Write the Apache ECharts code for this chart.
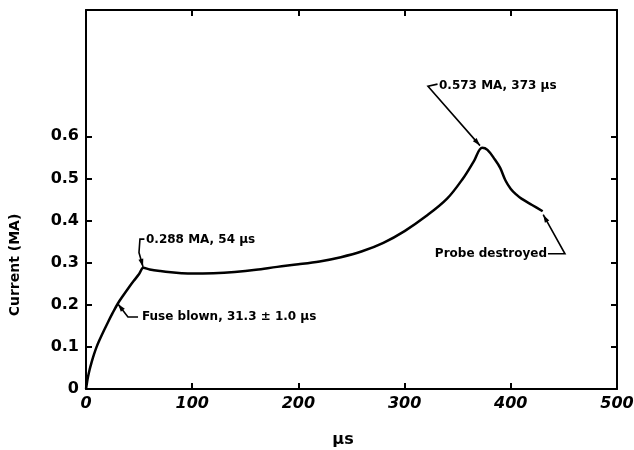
<!DOCTYPE html>
<html>
<head>
<meta charset="utf-8">
<script src="https://cdn.jsdelivr.net/npm/echarts@6/dist/echarts.min.js"></script>
<style>
html,body{margin:0;padding:0;background:#fff;}
#c{width:634px;height:450px;}
</style>
</head>
<body>
<div id="c"></div>
<script>
// ---- data (time in microseconds, current in MA) ----
const timeUs = [0, 1, 2, 3.5, 5, 7.5, 10, 12.5, 15, 20, 25, 30, 35, 40, 45, 50, 54, 60, 70, 80, 90, 100, 120, 140, 160, 180, 200, 220, 240, 260, 280, 300, 320, 340, 355, 365, 373, 378, 385, 390, 395, 400, 405, 410, 420, 430];
const currentMA = [0, 0.016, 0.03, 0.047, 0.061, 0.082, 0.10, 0.115, 0.129, 0.155, 0.18, 0.203, 0.222, 0.24, 0.257, 0.273, 0.288, 0.284, 0.28, 0.277, 0.275, 0.274, 0.275, 0.278, 0.283, 0.29, 0.296, 0.303, 0.313, 0.327, 0.347, 0.375, 0.41, 0.452, 0.5, 0.54, 0.573, 0.568, 0.545, 0.525, 0.495, 0.475, 0.462, 0.452, 0.437, 0.422];

const xTicks = [0, 100, 200, 300, 400, 500];
const yTicks = [0, 0.1, 0.2, 0.3, 0.4, 0.5, 0.6];
const topTicks = [100, 200, 300, 400];

// annotations: text, text anchor [us, MA], leader path [[us, MA], ...] ending at arrow tip
const annoTexts = ['0.288 MA, 54 \u03bcs', 'Fuse blown, 31.3 \u00b1 1.0 \u03bcs', '0.573 MA, 373 \u03bcs', 'Probe destroyed'];
const annoAnchors = [[56.5, 0.355], [52.7, 0.171], [332.4, 0.721], [328.5, 0.321]];
const annoPaths = [
  [[55.0, 0.356], [50.8, 0.356], [49.9, 0.324], [53.7, 0.290]],
  [[49.0, 0.171], [39.5, 0.171], [30.1, 0.202]],
  [[331.0, 0.724], [322.0, 0.719], [371.0, 0.578]],
  [[435.0, 0.321], [451.0, 0.321], [430.5, 0.414]]
];

const chart = echarts.init(document.getElementById('c'), null, {renderer: 'canvas'});
const FONT = 'DejaVu Sans';
const seriesData = timeUs.map((t, i) => [t, currentMA[i]]);

chart.setOption({
  animation: false,
  backgroundColor: '#fff',
  grid: {left: 86, right: 17, top: 10, bottom: 61, containLabel: false, outerBoundsMode: 'none'},
  xAxis: [{
    type: 'value', min: 0, max: 500, interval: 100,
    axisLine: {show: true, onZero: false, lineStyle: {color: '#000', width: 2}},
    axisTick: {show: true, inside: true, length: 6, lineStyle: {color: '#000', width: 2}, customValues: xTicks},
    axisLabel: {show: true, margin: 7, color: '#000', fontFamily: FONT, fontWeight: 'bold', fontSize: 16, fontStyle: 'italic', customValues: xTicks},
    splitLine: {show: false}
  }, {
    type: 'value', position: 'top', min: 0, max: 500, interval: 100,
    axisLine: {show: true, onZero: false, lineStyle: {color: '#000', width: 2}},
    axisTick: {show: true, inside: true, length: 6, lineStyle: {color: '#000', width: 2}, customValues: topTicks},
    axisLabel: {show: false},
    splitLine: {show: false}
  }],
  yAxis: [{
    type: 'value', min: 0, max: 0.9, interval: 0.1,
    axisLine: {show: true, onZero: false, lineStyle: {color: '#000', width: 2}},
    axisTick: {show: true, inside: true, length: 6, lineStyle: {color: '#000', width: 2}, customValues: yTicks},
    axisLabel: {show: true, margin: 7, color: '#000', fontFamily: FONT, fontWeight: 'bold', fontSize: 16, customValues: yTicks,
      formatter: v => (v === 0 ? '0' : v.toFixed(1))},
    splitLine: {show: false}
  }, {
    type: 'value', position: 'right', min: 0, max: 0.9, interval: 0.1,
    axisLine: {show: true, onZero: false, lineStyle: {color: '#000', width: 2}},
    axisTick: {show: true, inside: true, length: 6, lineStyle: {color: '#000', width: 2}, customValues: yTicks.slice(1)},
    axisLabel: {show: false},
    splitLine: {show: false}
  }],
  series: [{
    type: 'line', data: seriesData, xAxisIndex: 0, yAxisIndex: 0,
    smooth: 0.35, showSymbol: false, symbol: 'none',
    lineStyle: {color: '#000', width: 2.5}
  }]
});

function px(p) { return chart.convertToPixel({xAxisIndex: 0, yAxisIndex: 0}, p); }

const graphics = [];
annoTexts.forEach((txt, i) => {
  const a = px(annoAnchors[i]);
  graphics.push({type: 'text', x: a[0], y: a[1], style: {text: txt, fill: '#000', font: 'bold 12px "' + FONT + '"', textAlign: 'left', textVerticalAlign: 'middle'}});
  const pts = annoPaths[i].map(px);
  graphics.push({type: 'polyline', shape: {points: pts}, style: {stroke: '#000', lineWidth: 1.6, fill: null}});
  const tip = pts[pts.length - 1], prev = pts[pts.length - 2];
  const dx = tip[0] - prev[0], dy = tip[1] - prev[1];
  const L = Math.hypot(dx, dy), ux = dx / L, uy = dy / L;
  const len = 8, hw = 2.5;
  const bx = tip[0] - ux * len, by = tip[1] - uy * len;
  graphics.push({type: 'polygon', shape: {points: [tip, [bx - uy * hw, by + ux * hw], [bx + uy * hw, by - ux * hw]]}, style: {fill: '#000'}});
});
graphics.push({type: 'text', x: 343, y: 440, style: {text: '\u03bcs', fill: '#000', font: 'bold 16px "' + FONT + '"', textAlign: 'center', textVerticalAlign: 'middle'}});
graphics.push({type: 'text', x: 15, y: 265, rotation: Math.PI / 2, style: {text: 'Current (MA)', fill: '#000', font: 'bold 14px "' + FONT + '"', textAlign: 'center', textVerticalAlign: 'middle'}});
chart.setOption({graphic: graphics});
</script>
</body>
</html>
